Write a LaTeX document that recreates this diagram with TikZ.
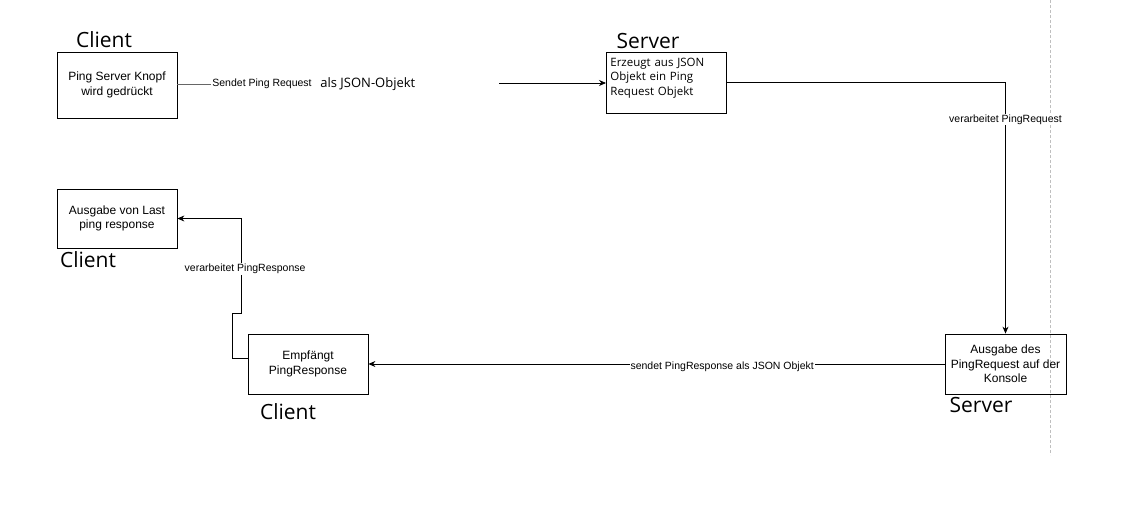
\documentclass[tikz,border=0pt]{standalone}
\usepackage{fontspec}
\setmainfont{Liberation Sans}
\newfontfamily\rolefont{Open Sans}
\usetikzlibrary{arrows.meta}

\begin{document}
\begin{tikzpicture}[x=1pt, y=-1pt, line width=0.8pt, >={Stealth[length=7pt, width=6pt]}]
        \tikzstyle{box}=[draw, minimum width=120pt, minimum height=60pt, align=center, inner sep=2pt, font=\fontsize{12}{14.5}\selectfont]
        \tikzstyle{role}=[anchor=base, inner sep=0pt, font=\rolefont\fontsize{21}{24}\selectfont]
        \tikzstyle{lbl}=[fill=white, inner sep=1pt, font=\fontsize{10.5}{12}\selectfont]

        \useasboundingbox (0,0) rectangle (1138,510);

        % Trennlinie rechts
        \draw[black!25, line width=0.6pt, dash pattern=on 3pt off 2pt] (1050,0) -- (1050,455);

        \node   (knopf)    [box, minimum height=66pt] at (117,85) {Ping Server Knopf\\wird gedrückt};
        \node   (erzeugt)  [box, anchor=north west, minimum height=0pt, text width=112pt, align=left,
                            inner xsep=4pt, inner ysep=3pt, text height=11pt, text depth=44pt,
                            font=\rolefont\fontsize{11.5}{14.5}\selectfont] at (606,52)
                           {Erzeugt aus JSON\\Objekt ein Ping\\Request Objekt};
        \node   (konsole)  [box, minimum width=121pt] at (1005.5,364) {Ausgabe des\\PingRequest auf der\\Konsole};
        \node   (empfang)  [box] at (308,364) {Empfängt\\PingResponse};
        \node   (ausgabe)  [box, minimum height=59pt] at (117,218.5) {Ausgabe von Last\\ping response};

        \node   (client1)  [role] at (104,48) {Client};
        \node   (server1)  [role] at (648,49) {Server};
        \node   (server2)  [role] at (981,413) {Server};
        \node   (client2)  [role] at (288,420) {Client};
        \node   (client3)  [role] at (88,268) {Client};

        \node   (sendet)   [lbl, anchor=base west] at (211,87) {Sendet Ping Request};
        \node   (alsjson)  [anchor=base west, inner sep=0pt, font=\rolefont\fontsize{13}{15}\selectfont] at (320,88) {als JSON-Objekt};
        \coordinate (weiter) at (499,83);

        \draw[black!60, line width=1pt] (knopf.east) -- (knopf.east -| sendet.west);
        \draw[->] (weiter) -- (erzeugt.west |- weiter);
        \draw[->] (erzeugt.east) -| (konsole.north)
            node[lbl, pos=0.573] {verarbeitet PingRequest};
        \draw[->] (konsole.west) -- (empfang.east)
            node[lbl, pos=0.386, yshift=-3pt] {sendet PingResponse als JSON Objekt};
        \draw[->] ([yshift=6pt]empfang.west) -- ++(-15,0) -- ++(0,-45) -- ++(9,0) -- ++(0,-44)
            node[lbl, xshift=3.5pt] {verarbeitet PingResponse} |- (ausgabe.east);

    \end{tikzpicture}
\end{document}
